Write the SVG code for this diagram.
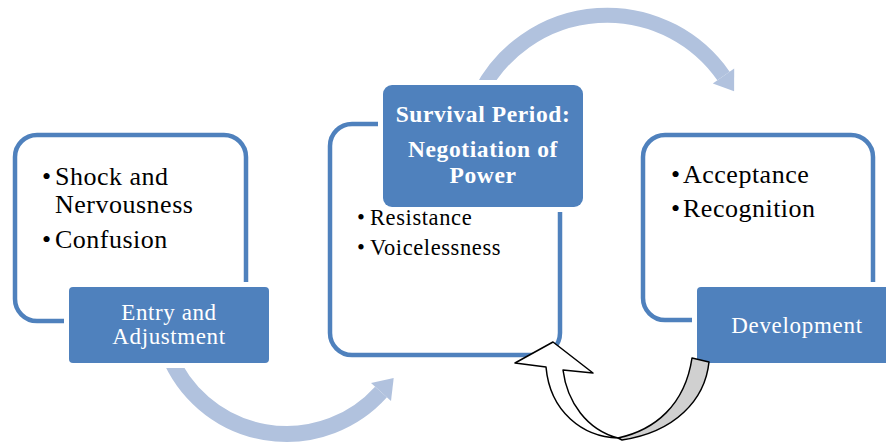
<svg xmlns="http://www.w3.org/2000/svg" width="886" height="443" viewBox="0 0 886 443">
<defs>
<style>
.frame{fill:none;stroke:#4F81BD;stroke-width:4.5}
.gap{fill:#FFFFFF}
.box{fill:#4F81BD}
.arc{fill:none;stroke:#B1C2DE}
.head{fill:#B1C2DE}
.bul{font-family:"Liberation Serif","Times New Roman",serif;fill:#000}
.lbl{font-family:"Liberation Serif","Times New Roman",serif;fill:#FFFFFF;text-anchor:middle}
.fb{stroke:#000;stroke-width:1.5;stroke-linejoin:round}
</style>
</defs>
<rect width="886" height="443" fill="#FFFFFF"/>
<g id="connectors">
<path class="arc" stroke-width="16" d="M169,355 A127,127 0 0 0 381,392"/>
<polygon class="head" points="371,383 391,401 393.7,377.9"/>
<path class="arc" stroke-width="15" d="M480.8,92 A142,142 0 0 1 723.5,76"/>
<polygon class="head" points="712.8,83.4 734.2,68.6 734.1,91.3"/>
</g>
<g id="node-entry">
<rect class="frame" x="15" y="135" width="231" height="186" rx="22"/>
<rect class="gap" x="64" y="282" width="210" height="86" rx="6"/>
<rect class="box" x="69" y="287" width="200" height="76" rx="4"/>
<g class="bul" font-size="26" letter-spacing="0.5">
<text x="42" y="185">•</text><text x="55" y="185">Shock and</text>
<text x="55" y="213">Nervousness</text>
<text x="42" y="248">•</text><text x="55" y="248">Confusion</text>
</g>
<g class="lbl" font-size="23" letter-spacing="0.6">
<text x="169" y="320">Entry and</text>
<text x="169" y="344">Adjustment</text>
</g>
</g>
<g id="node-survival">
<rect class="frame" x="330" y="124" width="230" height="231" rx="22"/>
<rect class="gap" x="378" y="80" width="210" height="132" rx="12"/>
<rect class="box" x="383" y="85" width="200" height="122" rx="9"/>
<g class="lbl" font-size="23.5" font-weight="bold" letter-spacing="0.6">
<text x="483" y="122">Survival Period:</text>
<text x="483" y="157">Negotiation of</text>
<text x="483" y="183">Power</text>
</g>
<g class="bul" font-size="22.5" letter-spacing="0.6">
<text x="357" y="225">•</text><text x="370" y="225">Resistance</text>
<text x="357" y="255">•</text><text x="370" y="255">Voicelessness</text>
</g>
</g>
<g id="node-development">
<rect class="frame" x="643" y="135" width="230" height="185" rx="22"/>
<rect class="gap" x="692" y="282" width="210" height="86" rx="6"/>
<rect class="box" x="697" y="287" width="200" height="76" rx="4"/>
<g class="bul" font-size="26" letter-spacing="0.5">
<text x="671" y="183">•</text><text x="683" y="183">Acceptance</text>
<text x="671" y="217">•</text><text x="683" y="217">Recognition</text>
</g>
<text class="lbl" x="797" y="333" font-size="23" letter-spacing="0.7">Development</text>
</g>
<g id="connector-feedback">
<path class="fb" fill="#D0D0D0" d="M692,358 L709,362 C705,400 675,432 622,440 L618,438 C655,430 685,405 692,358 Z"/>
<path class="fb" fill="#FFFFFF" d="M553,342 L593,373 L563,370 C567,402 587,430 618,438 C583,437 550,412 546,367 L515,363 Z"/>
</g>
</svg>
